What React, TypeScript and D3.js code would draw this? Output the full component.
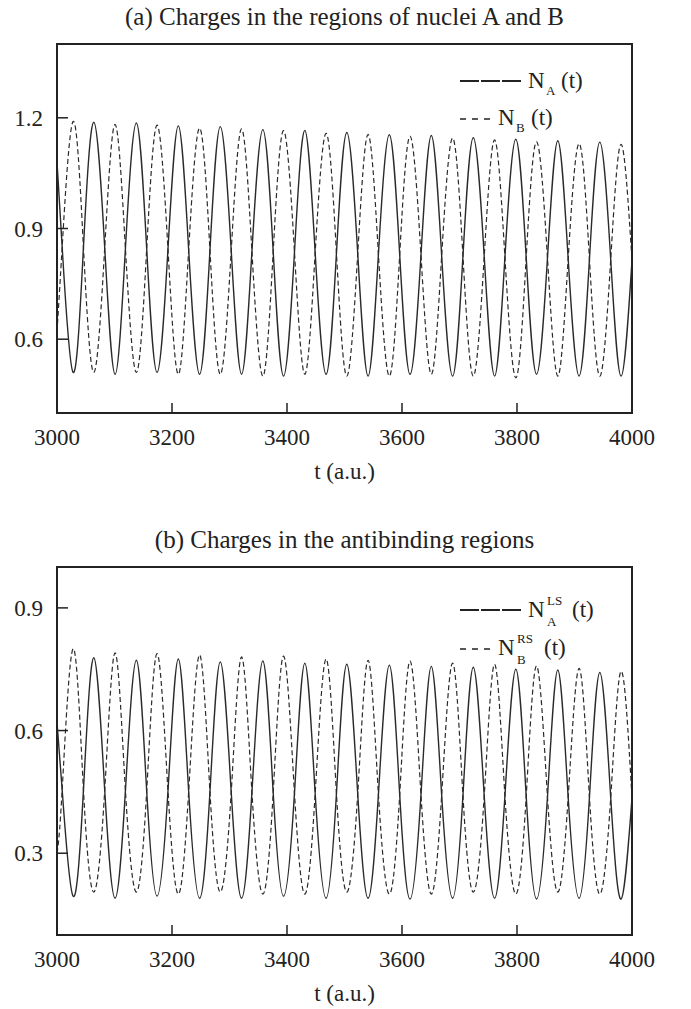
import React from "react";
import * as d3 from "d3";

// shared time grid (a.u.): extrema and mid-crossings
const times = [3000, 3009, 3028, 3046, 3064, 3083, 3101, 3119, 3138, 3156, 3174, 3193, 3211, 3229, 3248, 3266, 3284, 3303, 3321, 3339, 3358, 3376, 3394, 3413, 3431, 3449, 3468, 3486, 3504, 3523, 3541, 3559, 3578, 3596, 3614, 3633, 3651, 3669, 3688, 3706, 3724, 3743, 3761, 3779, 3798, 3816, 3834, 3853, 3871, 3889, 3908, 3926, 3944, 3963, 3981, 4000];

// (a) charges in the regions of nuclei A and B
const nA = [1.08,
  0.850, 0.510, 0.849, 1.188,
  0.848, 0.505, 0.846, 1.186,
  0.845, 0.510, 0.844, 1.178,
  0.842, 0.505, 0.841, 1.176,
  0.840, 0.505, 0.838, 1.168,
  0.837, 0.500, 0.836, 1.166,
  0.834, 0.505, 0.833, 1.160,
  0.832, 0.500, 0.830, 1.154,
  0.829, 0.505, 0.828, 1.152,
  0.826, 0.500, 0.825, 1.146,
  0.824, 0.500, 0.822, 1.142,
  0.821, 0.505, 0.820, 1.138,
  0.818, 0.500, 0.817, 1.134,
  0.816, 0.500, 0.814];

const nB = [0.62,
  0.850, 1.190, 0.849, 0.510,
  0.848, 1.182, 0.846, 0.510,
  0.845, 1.180, 0.844, 0.505,
  0.842, 1.172, 0.841, 0.505,
  0.840, 1.170, 0.838, 0.500,
  0.837, 1.165, 0.836, 0.505,
  0.834, 1.158, 0.833, 0.500,
  0.832, 1.155, 0.830, 0.500,
  0.829, 1.150, 0.828, 0.505,
  0.826, 1.145, 0.825, 0.500,
  0.824, 1.140, 0.822, 0.495,
  0.821, 1.135, 0.820, 0.500,
  0.818, 1.130, 0.817, 0.500,
  0.816, 1.128, 0.814];

// (b) charges in the antibinding regions
const nALS = [0.62,
  0.455, 0.195, 0.455, 0.778,
  0.454, 0.190, 0.453, 0.772,
  0.452, 0.195, 0.452, 0.775,
  0.451, 0.190, 0.450, 0.768,
  0.449, 0.190, 0.449, 0.770,
  0.448, 0.195, 0.447, 0.765,
  0.446, 0.190, 0.446, 0.762,
  0.445, 0.190, 0.444, 0.760,
  0.443, 0.188, 0.443, 0.757,
  0.442, 0.190, 0.441, 0.755,
  0.440, 0.190, 0.440, 0.750,
  0.439, 0.188, 0.438, 0.748,
  0.437, 0.190, 0.437, 0.742,
  0.436, 0.188, 0.435];

const nBRS = [0.30,
  0.455, 0.800, 0.455, 0.205,
  0.454, 0.790, 0.453, 0.205,
  0.452, 0.788, 0.452, 0.200,
  0.451, 0.785, 0.450, 0.205,
  0.449, 0.780, 0.449, 0.200,
  0.448, 0.782, 0.447, 0.200,
  0.446, 0.775, 0.446, 0.205,
  0.445, 0.772, 0.444, 0.200,
  0.443, 0.770, 0.443, 0.200,
  0.442, 0.765, 0.441, 0.205,
  0.440, 0.762, 0.440, 0.200,
  0.439, 0.758, 0.438, 0.205,
  0.437, 0.752, 0.437, 0.200,
  0.436, 0.745, 0.435];

const xTicks = [3000, 3200, 3400, 3600, 3800, 4000];
const yTicksA = [0.6, 0.9, 1.2];
const yTicksB = [0.3, 0.6, 0.9];
const domainA: [number, number] = [0.4, 1.4];
const domainB: [number, number] = [0.1, 1.0];

const FONT = "'Liberation Serif', 'Times New Roman', serif";
const INK = "#222";
const LEFT = 57;
const RIGHT = 632;

type PanelProps = {
  top: number;
  bottom: number;
  domain: [number, number];
  yTicks: number[];
  solid: number[];
  dashed: number[];
  title: string;
  legend: React.ReactNode;
};

function Panel({ top, bottom, domain, yTicks, solid, dashed, title, legend }: PanelProps) {
  const x = d3.scaleLinear().domain([3000, 4000]).range([LEFT, RIGHT]);
  const y = d3.scaleLinear().domain(domain).range([bottom, top]);
  const line = d3
    .line<number>()
    .x((_, i) => x(times[i]))
    .y((v) => y(v))
    .curve(d3.curveNatural);
  return (
    <g>
      <text x={(LEFT + RIGHT) / 2} y={top - 19} textAnchor="middle" fontSize={25} fill={INK}>
        {title}
      </text>
      <defs>
        <clipPath id={`clip${top}`}>
          <rect x={LEFT} y={top} width={RIGHT - LEFT} height={bottom - top} />
        </clipPath>
      </defs>
      <g clipPath={`url(#clip${top})`}>
        <path d={line(solid) || ""} fill="none" stroke="#2a2a2a" strokeWidth={1.4} />
        <path d={line(dashed) || ""} fill="none" stroke="#2a2a2a" strokeWidth={1.2} strokeDasharray="5 3" />
      </g>
      <rect x={LEFT} y={top} width={RIGHT - LEFT} height={bottom - top} fill="none" stroke={INK} strokeWidth={2} />
      {xTicks.map((t) => (
        <g key={t}>
          {t > 3000 && t < 4000 && (
            <line x1={x(t)} x2={x(t)} y1={bottom} y2={bottom - 10} stroke={INK} strokeWidth={1.5} />
          )}
          <text x={x(t)} y={bottom + 32} textAnchor="middle" fontSize={23} fill={INK}>
            {t}
          </text>
        </g>
      ))}
      {yTicks.map((v) => (
        <g key={v}>
          <line x1={LEFT} x2={LEFT + 11} y1={y(v)} y2={y(v)} stroke={INK} strokeWidth={1.5} />
          <text x={43} y={y(v) + 8} textAnchor="end" fontSize={23} fill={INK}>
            {v.toFixed(1)}
          </text>
        </g>
      ))}
      <text x={(LEFT + RIGHT) / 2} y={bottom + 66} textAnchor="middle" fontSize={23} fill={INK}>
        t (a.u.)
      </text>
      {legend}
    </g>
  );
}

export default function App() {
  const legendA = (
    <g fill={INK}>
      <line x1={460} x2={522} y1={81} y2={81} stroke={INK} strokeWidth={2} strokeDasharray="19 2" />
      <text x={528} y={88} fontSize={23}>N</text>
      <text x={546} y={95} fontSize={13}>A</text>
      <text x={561} y={88} fontSize={23}>(t)</text>
      <line x1={460} x2={494} y1={119} y2={119} stroke={INK} strokeWidth={1.6} strokeDasharray="6 6" />
      <text x={498} y={125} fontSize={23}>N</text>
      <text x={516} y={132} fontSize={13}>B</text>
      <text x={531} y={125} fontSize={23}>(t)</text>
    </g>
  );
  const legendB = (
    <g fill={INK}>
      <line x1={460} x2={522} y1={610} y2={610} stroke={INK} strokeWidth={2} strokeDasharray="19 2" />
      <text x={528} y={617} fontSize={23}>N</text>
      <text x={547} y={605} fontSize={13}>LS</text>
      <text x={547} y={626} fontSize={13}>A</text>
      <text x={572} y={617} fontSize={23}>(t)</text>
      <line x1={460} x2={494} y1={649} y2={649} stroke={INK} strokeWidth={1.6} strokeDasharray="6 6" />
      <text x={498} y={655} fontSize={23}>N</text>
      <text x={517} y={643} fontSize={13}>RS</text>
      <text x={517} y={664} fontSize={13}>B</text>
      <text x={544} y={655} fontSize={23}>(t)</text>
    </g>
  );
  return (
    <svg
      width={691}
      height={1009}
      style={{ position: "absolute", left: 0, top: 0, background: "#fff", fontFamily: FONT }}
    >
      <rect width={691} height={1009} fill="#fff" />
      <Panel
        top={44}
        bottom={413}
        domain={domainA}
        yTicks={yTicksA}
        solid={nA}
        dashed={nB}
        title="(a) Charges in the regions of nuclei A and B"
        legend={legendA}
      />
      <Panel
        top={567}
        bottom={935}
        domain={domainB}
        yTicks={yTicksB}
        solid={nALS}
        dashed={nBRS}
        title="(b) Charges in the antibinding regions"
        legend={legendB}
      />
    </svg>
  );
}
